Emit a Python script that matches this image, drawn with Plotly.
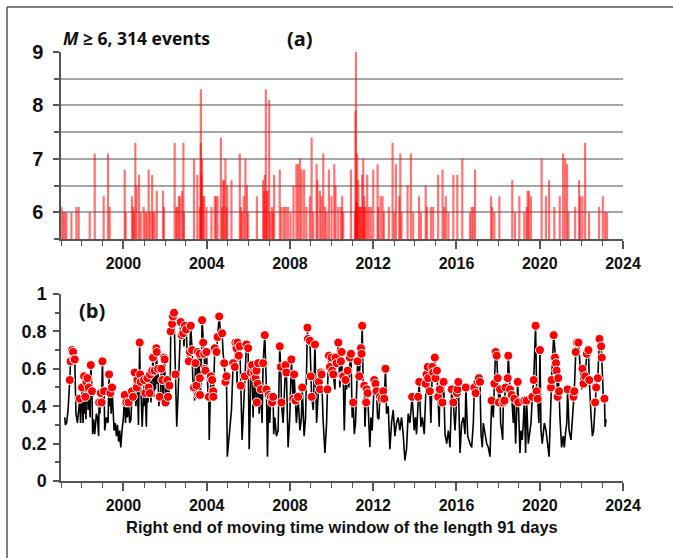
import plotly.graph_objects as go

# ---------------- Panel (a): earthquake events (decimal year, magnitude) ----------------
EQ_T = [1997.02, 1997.10, 1997.18, 1997.26, 1997.50, 1997.74, 1997.85, 1998.38, 1998.62, 1999.05,
        1999.26, 1999.34, 2000.06, 2000.11, 2000.41, 2000.46, 2000.51, 2000.57, 2000.63, 2000.75,
        2000.83, 2000.97, 2001.05, 2001.12, 2001.21, 2001.28, 2001.38, 2001.42, 2001.50, 2001.60,
        2001.90, 2001.95, 2002.46, 2002.54, 2002.59, 2002.66, 2002.72, 2002.82, 2002.88, 2002.91,
        2003.39, 2003.55, 2003.67, 2003.71, 2003.72, 2003.75, 2003.78, 2003.83, 2003.88, 2003.99,
        2004.23, 2004.39, 2004.45, 2004.52, 2004.68, 2004.74, 2004.79, 2004.84, 2004.90, 2004.95,
        2004.99, 2005.19, 2005.59, 2005.64, 2005.70, 2005.78, 2005.86, 2005.93, 2005.99, 2006.41,
        2006.71, 2006.76, 2006.79, 2006.84, 2006.89, 2006.92, 2007.00, 2007.05, 2007.14, 2007.19,
        2007.24, 2007.51, 2007.59, 2007.71, 2007.80, 2007.91, 2008.03, 2008.17, 2008.31, 2008.39,
        2008.48, 2008.56, 2008.68, 2008.79, 2008.96, 2009.04, 2009.12, 2009.28, 2009.32, 2009.44,
        2009.52, 2009.60, 2009.68, 2009.76, 2009.87, 2010.00, 2010.13, 2010.19, 2010.32, 2010.45,
        2010.51, 2010.56, 2010.93, 2011.12, 2011.15, 2011.17, 2011.18, 2011.20, 2011.23, 2011.25,
        2011.28, 2011.33, 2011.37, 2011.42, 2011.47, 2011.52, 2011.55, 2011.57, 2011.63, 2011.71,
        2011.79, 2011.89, 2012.00, 2012.21, 2012.24, 2012.35, 2012.45, 2012.51, 2012.75, 2012.93,
        2013.01, 2013.09, 2013.25, 2013.30, 2013.36, 2013.65, 2013.81, 2013.92, 2014.20, 2014.29,
        2014.52, 2014.58, 2014.77, 2014.88, 2015.12, 2015.33, 2015.41, 2015.49, 2015.61, 2015.85,
        2016.04, 2016.28, 2016.65, 2016.73, 2016.81, 2016.89, 2017.66, 2017.72, 2017.82, 2018.06,
        2018.68, 2018.81, 2019.02, 2019.26, 2019.37, 2019.42, 2019.48, 2019.58, 2020.09, 2020.30,
        2020.45, 2020.70, 2020.96, 2021.12, 2021.22, 2021.31, 2021.38, 2021.70, 2021.89, 2021.94,
        2022.05, 2022.18, 2022.37, 2022.85, 2023.03, 2023.14, 2023.23]
EQ_M = [6.1, 6.0, 6.0, 6.0, 6.0, 6.1, 6.1, 6.0, 7.1, 6.3,
        7.1, 6.1, 6.8, 6.0, 6.3, 6.1, 6.0, 7.3, 6.5, 6.7,
        6.0, 6.1, 6.0, 6.0, 6.8, 6.0, 6.7, 6.0, 6.0, 6.4,
        6.4, 6.1, 7.3, 6.1, 6.1, 6.3, 6.3, 6.4, 7.3, 6.0,
        7.0, 6.7, 6.1, 7.3, 8.3, 6.7, 7.0, 6.3, 6.3, 6.1,
        6.1, 6.3, 6.3, 6.3, 7.4, 6.1, 6.6, 6.6, 7.0, 6.1,
        6.5, 6.6, 7.1, 6.1, 6.0, 6.3, 7.0, 6.5, 6.0, 6.3,
        6.6, 6.4, 6.7, 8.3, 6.4, 6.4, 8.1, 6.0, 6.1, 6.0,
        6.7, 6.8, 6.1, 6.1, 6.1, 6.1, 6.0, 6.5, 6.9, 6.9,
        7.0, 6.8, 6.8, 6.1, 6.3, 7.4, 6.0, 6.9, 6.6, 6.4,
        6.3, 7.1, 6.1, 6.0, 6.8, 6.3, 6.9, 6.5, 6.1, 6.1,
        6.3, 6.0, 6.8, 6.0, 7.9, 9.0, 6.2, 6.2, 7.1, 6.1,
        6.6, 6.1, 6.1, 6.1, 6.7, 7.0, 6.1, 6.3, 6.1, 6.7,
        6.1, 6.1, 6.8, 6.9, 6.1, 6.3, 6.3, 6.0, 6.1, 7.3,
        6.0, 6.9, 6.3, 7.1, 6.0, 6.5, 7.1, 6.0, 6.3, 6.0,
        6.5, 6.1, 6.1, 6.1, 6.7, 6.8, 6.1, 6.3, 6.0, 6.7,
        6.7, 7.0, 6.0, 6.1, 6.1, 6.8, 6.3, 6.1, 6.0, 6.3,
        6.6, 6.0, 6.3, 6.0, 6.1, 6.4, 6.4, 6.3, 7.0, 6.3,
        6.6, 6.1, 6.3, 7.1, 7.0, 6.9, 6.0, 6.1, 6.6, 6.3,
        6.3, 7.3, 6.0, 6.1, 6.3, 6.0, 6.0]

# ---------------- Panel (b): moving-window series ----------------
# intermediate / trough points of the black curve
LINE_T = [1997.18, 1997.21, 1997.27, 1997.34, 1997.72, 1997.79, 1997.85, 1997.94, 1998.06, 1998.14,
          1998.20, 1998.30, 1998.40, 1998.52, 1998.57, 1998.62, 1998.70, 1998.75, 1998.81, 1998.87,
          1999.03, 1999.10, 1999.18, 1999.26, 1999.34, 1999.41, 1999.50, 1999.55, 1999.61, 1999.66,
          1999.71, 1999.77, 1999.82, 1999.87, 1999.93, 2000.00, 2000.10, 2000.19, 2000.30, 2000.36,
          2000.51, 2000.60, 2000.72, 2000.86, 2000.90, 2001.02, 2001.10, 2001.18, 2001.32, 2001.46,
          2001.54, 2001.62, 2001.70, 2001.78, 2001.90, 2002.04, 2002.18, 2002.25, 2002.53, 2002.56,
          2002.62, 2002.70, 2002.91, 2003.08, 2003.33, 2003.42, 2003.55, 2003.63, 2003.72, 2004.07,
          2004.12, 2004.68, 2004.79, 2004.99, 2005.11, 2005.19, 2005.46, 2005.70, 2005.75, 2006.04,
          2006.08, 2006.23, 2006.31, 2006.52, 2006.66, 2006.92, 2007.03, 2007.22, 2007.27, 2007.35,
          2007.43, 2007.67, 2007.91, 2007.99, 2008.31, 2008.48, 2008.55, 2008.68, 2008.75, 2009.12,
          2009.28, 2009.59, 2009.68, 2009.76, 2010.16, 2010.40, 2010.61, 2010.72, 2010.83, 2010.99,
          2011.09, 2011.15, 2011.20, 2011.52, 2011.60, 2011.79, 2011.84, 2011.89, 2011.95, 2012.21,
          2012.27, 2012.64, 2012.72, 2012.80, 2012.88, 2012.96, 2013.04, 2013.12, 2013.20, 2013.28,
          2013.36, 2013.44, 2013.52, 2013.60, 2013.68, 2013.76, 2013.97, 2014.03, 2014.08, 2014.29,
          2014.36, 2014.45, 2014.77, 2015.17, 2015.45, 2015.53, 2015.61, 2015.69, 2015.93, 2016.17,
          2016.25, 2016.33, 2016.41, 2016.54, 2016.65, 2016.73, 2016.81, 2017.18, 2017.24, 2017.29,
          2017.37, 2017.45, 2017.53, 2017.61, 2017.77, 2018.12, 2018.17, 2018.22, 2018.73, 2018.84,
          2019.05, 2019.10, 2019.16, 2019.21, 2019.32, 2019.45, 2019.53, 2019.58, 2019.96, 2020.06,
          2020.12, 2020.22, 2020.30, 2020.38, 2020.45, 2020.49, 2020.97, 2021.05, 2021.13, 2021.18,
          2021.25, 2021.30, 2021.41, 2021.50, 2021.94, 2022.02, 2022.47, 2022.53, 2022.59, 2023.06,
          2023.14, 2023.19]
LINE_V = [0.34, 0.30, 0.31, 0.38, 0.36, 0.31, 0.38, 0.31, 0.31, 0.36,
          0.33, 0.38, 0.34, 0.25, 0.33, 0.25, 0.36, 0.34, 0.24, 0.36,
          0.43, 0.27, 0.34, 0.31, 0.40, 0.36, 0.34, 0.27, 0.31, 0.24,
          0.30, 0.21, 0.27, 0.18, 0.27, 0.34, 0.31, 0.34, 0.31, 0.33,
          0.43, 0.40, 0.30, 0.43, 0.29, 0.40, 0.29, 0.42, 0.42, 0.45,
          0.49, 0.52, 0.40, 0.45, 0.40, 0.45, 0.42, 0.55, 0.40, 0.29,
          0.45, 0.70, 0.72, 0.66, 0.55, 0.43, 0.44, 0.45, 0.52, 0.45,
          0.22, 0.77, 0.68, 0.13, 0.27, 0.38, 0.50, 0.22, 0.34, 0.17,
          0.34, 0.34, 0.40, 0.36, 0.31, 0.13, 0.31, 0.25, 0.34, 0.24,
          0.27, 0.31, 0.18, 0.34, 0.31, 0.27, 0.34, 0.24, 0.34, 0.38,
          0.31, 0.33, 0.15, 0.31, 0.49, 0.50, 0.27, 0.49, 0.50, 0.34,
          0.25, 0.31, 0.49, 0.49, 0.29, 0.31, 0.18, 0.34, 0.27, 0.34,
          0.33, 0.36, 0.40, 0.17, 0.31, 0.38, 0.24, 0.31, 0.34, 0.27,
          0.34, 0.25, 0.11, 0.17, 0.36, 0.31, 0.27, 0.34, 0.25, 0.29,
          0.34, 0.25, 0.31, 0.29, 0.25, 0.20, 0.27, 0.18, 0.27, 0.15,
          0.31, 0.34, 0.25, 0.24, 0.20, 0.18, 0.31, 0.25, 0.18, 0.31,
          0.24, 0.20, 0.18, 0.13, 0.34, 0.31, 0.27, 0.22, 0.31, 0.20,
          0.15, 0.27, 0.22, 0.31, 0.15, 0.20, 0.27, 0.31, 0.31, 0.27,
          0.20, 0.31, 0.27, 0.18, 0.13, 0.27, 0.34, 0.18, 0.24, 0.18,
          0.27, 0.31, 0.27, 0.22, 0.63, 0.49, 0.34, 0.24, 0.27, 0.43,
          0.29, 0.33]

# values of the curve at the event times (red dots)
DOT_T = [1997.42, 1997.46, 1997.53, 1997.58, 1997.63, 1997.66, 1997.90, 1998.01, 1998.11, 1998.17,
         1998.22, 1998.27, 1998.33, 1998.43, 1998.49, 1998.83, 1998.91, 1998.95, 1998.99, 1999.07,
         1999.31, 1999.37, 1999.45, 2000.06, 2000.14, 2000.25, 2000.41, 2000.46, 2000.54, 2000.64,
         2000.67, 2000.78, 2000.80, 2000.83, 2000.99, 2001.05, 2001.15, 2001.21, 2001.26, 2001.28,
         2001.38, 2001.42, 2001.50, 2001.58, 2001.60, 2001.66, 2001.74, 2001.82, 2001.87, 2001.95,
         2001.98, 2002.02, 2002.11, 2002.14, 2002.21, 2002.27, 2002.34, 2002.38, 2002.43, 2002.50,
         2002.75, 2002.79, 2002.87, 2002.95, 2003.01, 2003.14, 2003.19, 2003.23, 2003.30, 2003.39,
         2003.46, 2003.51, 2003.57, 2003.59, 2003.66, 2003.67, 2003.68, 2003.78, 2003.83, 2003.88,
         2003.91, 2003.94, 2003.99, 2004.10, 2004.20, 2004.26, 2004.31, 2004.32, 2004.39, 2004.47,
         2004.52, 2004.60, 2004.74, 2004.84, 2004.90, 2004.95, 2005.27, 2005.35, 2005.38, 2005.43,
         2005.48, 2005.54, 2005.59, 2005.64, 2005.83, 2005.91, 2005.99, 2006.12, 2006.18, 2006.28,
         2006.34, 2006.39, 2006.41, 2006.44, 2006.47, 2006.60, 2006.71, 2006.79, 2006.87, 2006.98,
         2007.08, 2007.14, 2007.19, 2007.51, 2007.56, 2007.59, 2007.79, 2007.83, 2008.07, 2008.15,
         2008.20, 2008.27, 2008.39, 2008.59, 2008.84, 2008.86, 2008.96, 2009.00, 2009.04, 2009.20,
         2009.39, 2009.44, 2009.48, 2009.52, 2009.80, 2009.87, 2009.92, 2010.00, 2010.03, 2010.08,
         2010.19, 2010.24, 2010.32, 2010.45, 2010.48, 2010.51, 2010.56, 2010.67, 2010.77, 2010.88,
         2010.93, 2011.04, 2011.25, 2011.33, 2011.41, 2011.44, 2011.47, 2011.57, 2011.66, 2011.68,
         2011.73, 2012.05, 2012.11, 2012.16, 2012.32, 2012.40, 2012.48, 2012.53, 2012.59, 2013.87,
         2014.16, 2014.21, 2014.52, 2014.56, 2014.62, 2014.64, 2014.72, 2014.84, 2014.88, 2014.96,
         2014.99, 2015.06, 2015.12, 2015.20, 2015.32, 2015.38, 2015.77, 2015.85, 2016.02, 2016.05,
         2016.09, 2016.45, 2016.86, 2016.92, 2017.01, 2017.08, 2017.13, 2017.69, 2017.82, 2017.88,
         2017.93, 2017.98, 2018.04, 2018.09, 2018.25, 2018.30, 2018.36, 2018.46, 2018.49, 2018.57,
         2018.65, 2018.78, 2018.94, 2018.97, 2019.26, 2019.37, 2019.64, 2019.71, 2019.80, 2019.85,
         2019.90, 2020.01, 2020.54, 2020.57, 2020.67, 2020.73, 2020.78, 2020.81, 2020.86, 2020.89,
         2020.93, 2021.34, 2021.62, 2021.66, 2021.73, 2021.79, 2021.86, 2022.05, 2022.10, 2022.18,
         2022.26, 2022.34, 2022.38, 2022.66, 2022.71, 2022.79, 2022.87, 2022.95, 2022.98, 2023.11]
DOT_V = [0.54, 0.64, 0.70, 0.69, 0.65, 0.65, 0.44, 0.50, 0.56, 0.45,
         0.53, 0.55, 0.50, 0.62, 0.48, 0.42, 0.47, 0.42, 0.64, 0.48,
         0.57, 0.47, 0.50, 0.46, 0.42, 0.42, 0.48, 0.45, 0.58, 0.50,
         0.54, 0.74, 0.57, 0.53, 0.54, 0.47, 0.55, 0.50, 0.47, 0.57,
         0.59, 0.66, 0.59, 0.71, 0.69, 0.60, 0.45, 0.60, 0.54, 0.66,
         0.65, 0.42, 0.54, 0.45, 0.51, 0.80, 0.84, 0.88, 0.90, 0.57,
         0.85, 0.78, 0.79, 0.83, 0.81, 0.64, 0.69, 0.83, 0.70, 0.50,
         0.63, 0.51, 0.69, 0.46, 0.68, 0.55, 0.46, 0.86, 0.74, 0.68,
         0.60, 0.59, 0.69, 0.45, 0.56, 0.54, 0.48, 0.45, 0.71, 0.69,
         0.77, 0.88, 0.79, 0.63, 0.53, 0.56, 0.63, 0.61, 0.74, 0.71,
         0.74, 0.67, 0.72, 0.51, 0.56, 0.73, 0.71, 0.58, 0.62, 0.58,
         0.55, 0.59, 0.42, 0.52, 0.63, 0.49, 0.63, 0.78, 0.49, 0.46,
         0.45, 0.42, 0.45, 0.72, 0.61, 0.42, 0.62, 0.58, 0.65, 0.44,
         0.57, 0.43, 0.45, 0.50, 0.82, 0.76, 0.75, 0.56, 0.45, 0.73,
         0.53, 0.49, 0.58, 0.57, 0.49, 0.67, 0.61, 0.66, 0.59, 0.57,
         0.66, 0.63, 0.74, 0.64, 0.69, 0.56, 0.56, 0.54, 0.59, 0.66,
         0.68, 0.42, 0.64, 0.56, 0.71, 0.68, 0.83, 0.51, 0.42, 0.49,
         0.47, 0.54, 0.52, 0.48, 0.45, 0.44, 0.48, 0.44, 0.60, 0.45,
         0.45, 0.53, 0.52, 0.57, 0.61, 0.55, 0.48, 0.61, 0.58, 0.66,
         0.55, 0.59, 0.45, 0.49, 0.42, 0.53, 0.49, 0.42, 0.47, 0.49,
         0.53, 0.50, 0.50, 0.47, 0.53, 0.55, 0.53, 0.43, 0.52, 0.69,
         0.67, 0.55, 0.42, 0.49, 0.42, 0.43, 0.50, 0.55, 0.67, 0.49,
         0.46, 0.44, 0.53, 0.42, 0.43, 0.43, 0.45, 0.54, 0.83, 0.48,
         0.44, 0.70, 0.50, 0.54, 0.78, 0.66, 0.63, 0.59, 0.45, 0.55,
         0.48, 0.49, 0.45, 0.48, 0.69, 0.74, 0.74, 0.60, 0.52, 0.56,
         0.68, 0.70, 0.54, 0.42, 0.50, 0.55, 0.76, 0.72, 0.66, 0.44]

A_YTICKS = [6, 7, 8, 9]
B_YTICKS = [0, 0.2, 0.4, 0.6, 0.8, 1.0]
B_YTEXT = ["0", "0.2", "0.4", "0.6", "0.8", "1"]
X_TICKS = [2000, 2004, 2008, 2012, 2016, 2020, 2024]

BASE = 5.5

# ---------------- build traces ----------------
stem_x, stem_y = [], []
for t, m in zip(EQ_T, EQ_M):
    stem_x += [t, t, None]
    stem_y += [BASE, m, None]

curve = sorted(zip(LINE_T + DOT_T, LINE_V + DOT_V))
curve_t = [p[0] for p in curve]
curve_v = [p[1] for p in curve]

fig = go.Figure()
fig.add_trace(go.Scatter(x=stem_x, y=stem_y, mode="lines",
                         line=dict(color="rgba(255,0,0,0.55)", width=2.2),
                         xaxis="x", yaxis="y", hoverinfo="skip", showlegend=False))
fig.add_trace(go.Scatter(x=curve_t, y=curve_v, mode="lines",
                         line=dict(color="black", width=1.6),
                         xaxis="x2", yaxis="y2", showlegend=False))
fig.add_trace(go.Scatter(x=DOT_T, y=DOT_V, mode="markers",
                         marker=dict(color="#ff0000", size=9, line=dict(color="white", width=1)),
                         xaxis="x2", yaxis="y2", showlegend=False))

AX = "#555555"
TF = "Liberation Sans"

xcommon = dict(range=[1997, 2024], tickvals=X_TICKS, ticks="outside", ticklen=8, tickwidth=1.5,
               tickcolor=AX, showline=True, linecolor=AX, linewidth=1.5, showgrid=False,
               zeroline=False, ticklabelstandoff=1,
               minor=dict(tick0=1997, dtick=1, ticks="outside", ticklen=5, tickcolor=AX, tickwidth=1.2,
                          showgrid=False),
               tickfont=dict(family=TF, size=16, color="#111", weight="bold"))

fig.update_layout(
    width=673, height=558,
    margin=dict(l=61, r=50, t=52, b=77),
    paper_bgcolor="white", plot_bgcolor="white",
    xaxis=dict(domain=[0, 1], anchor="y", **xcommon),
    yaxis=dict(domain=[0.5641, 1], anchor="x", range=[5.5, 9], tickvals=A_YTICKS,
               ticks="outside", ticklen=6, tickwidth=1.5, tickcolor=AX,
               showline=True, linecolor=AX, linewidth=1.5, zeroline=False,
               showgrid=True, gridcolor="#a6a6a6", gridwidth=1.5,
               minor=dict(dtick=0.5, tick0=5.5, ticks="outside", ticklen=5, tickcolor=AX,
                          showgrid=True, gridcolor="#a6a6a6", gridwidth=1.5),
               ticklabelstandoff=6,
               tickfont=dict(family=TF, size=20, color="#111", weight="bold")),
    xaxis2=dict(domain=[0, 1], anchor="y2", **xcommon),
    yaxis2=dict(domain=[0, 0.4359], anchor="x2", range=[0, 1], tickvals=B_YTICKS, ticktext=B_YTEXT,
                ticks="outside", ticklen=6, tickwidth=1.5, tickcolor=AX,
                showline=True, linecolor=AX, linewidth=1.5, zeroline=False, showgrid=False,
                minor=dict(dtick=0.1, tick0=0, ticks="outside", ticklen=4, tickcolor=AX, showgrid=False),
                ticklabelstandoff=3,
                tickfont=dict(family=TF, size=18, color="#111", weight="bold")),
    annotations=[
        dict(text="<i>M</i> \u2265 6, 314 events", x=0.0, y=1.0326, xref="paper", yref="paper",
             xanchor="left", yanchor="middle", showarrow=False,
             font=dict(family="Open Sans", size=17.5, color="#111", weight="bold")),
        dict(text="(a)", x=0.4253, y=1.0326, xref="paper", yref="paper",
             xanchor="center", yanchor="middle", showarrow=False,
             font=dict(family="Open Sans", size=20, color="#111", weight="bold")),
        dict(text="(b)", x=0.0552, y=0.3986, xref="paper", yref="paper",
             xanchor="center", yanchor="middle", showarrow=False,
             font=dict(family="Open Sans", size=20, color="#111", weight="bold")),
        dict(text="Right end of moving time window of the length 91 days", x=0.5, y=-0.1072,
             xref="paper", yref="paper", xanchor="center", yanchor="middle", showarrow=False,
             font=dict(family=TF, size=16.5, color="#111", weight="bold")),
    ],
    shapes=[
        dict(type="line", xref="paper", yref="paper", x0=-0.0961, x1=1.09, y0=1.1049, y1=1.1049,
             line=dict(color="#555", width=1.5)),
        dict(type="line", xref="paper", yref="paper", x0=-0.0961, x1=-0.0961, y0=1.1049, y1=-0.19,
             line=dict(color="#555", width=1.5)),
    ],
)

fig.write_html("out.html")
